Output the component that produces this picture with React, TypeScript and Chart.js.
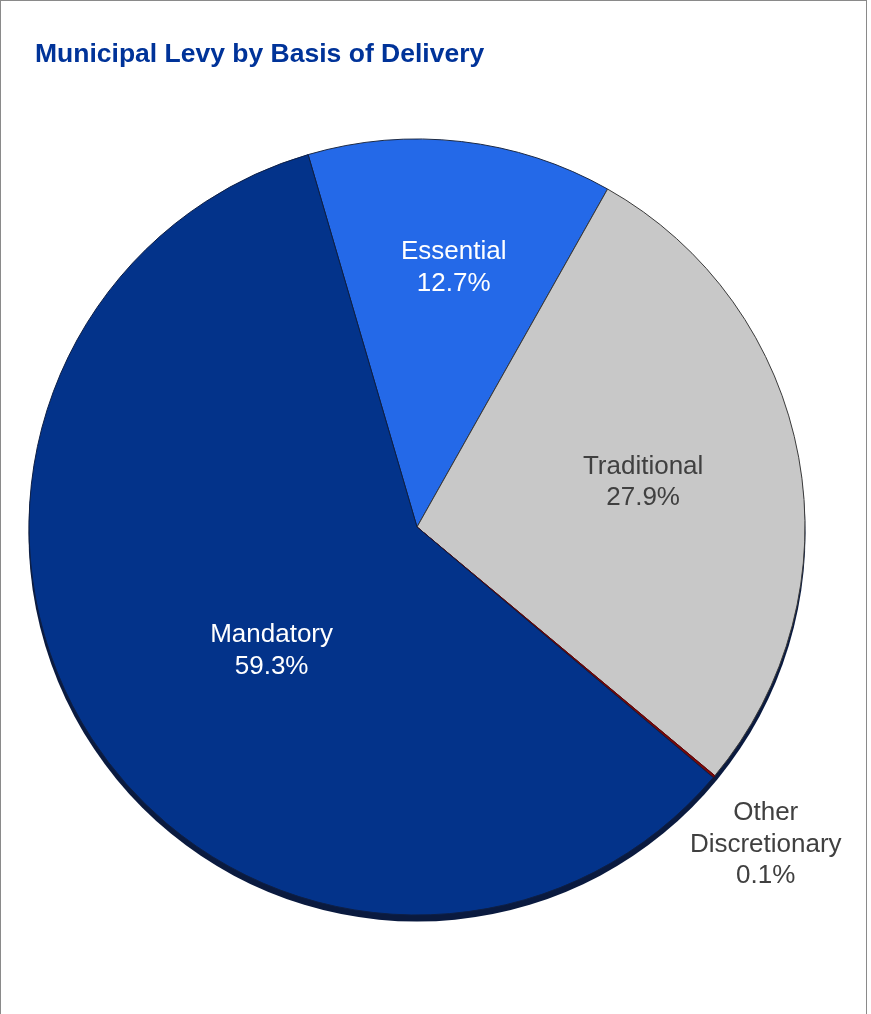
import React, { useEffect, useRef } from "react";
import { Chart, registerables } from "chart.js";

Chart.register(...registerables);

const categories = ["Essential", "Traditional", "Other Discretionary", "Mandatory"];
const labelLines = [["Essential"], ["Traditional"], ["Other", "Discretionary"], ["Mandatory"]];
const shares = [12.7, 27.9, 0.1, 59.3];
const sliceColors = ["#2469E8", "#C8C8C8", "#7A0A0A", "#03338A"];
const borderColors = ["#1c2a45", "#3a3a3a", "#6a0000", "#0e1f45"];
const labelColors = ["#FFFFFF", "#404040", "#404040", "#FFFFFF"];
const labelRadiusFrac = [0.675, 0.594, 1.216, 0.492];
const labelAngleShiftDeg = [1.5, -0.8, 2.3, -7.35];

const rimPlugin = {
  id: "rim",
  beforeDatasetsDraw(chart: any) {
    const meta = chart.getDatasetMeta(0);
    const el = meta.data[0];
    if (!el) return;
    const { x, y, outerRadius } = el.getProps(["x", "y", "outerRadius"], true);
    const ctx = chart.ctx;
    ctx.save();
    ctx.beginPath();
    ctx.arc(x, y + 6, outerRadius + 0.5, 0, Math.PI * 2);
    ctx.fillStyle = "#0a1a3f";
    ctx.fill();
    ctx.restore();
  },
};

const labelPlugin = {
  id: "sliceLabels",
  afterDatasetsDraw(chart: any) {
    const meta = chart.getDatasetMeta(0);
    const ctx = chart.ctx;
    const fontSize = 26;
    const lineH = 31.5;
    ctx.save();
    ctx.font = `${fontSize}px "Liberation Sans", Arial, sans-serif`;
    ctx.textAlign = "center";
    ctx.textBaseline = "middle";
    meta.data.forEach((el: any, i: number) => {
      const { x, y, startAngle, endAngle, outerRadius } = el.getProps(
        ["x", "y", "startAngle", "endAngle", "outerRadius"],
        true
      );
      const mid = (startAngle + endAngle) / 2 + (labelAngleShiftDeg[i] * Math.PI) / 180;
      const r = outerRadius * labelRadiusFrac[i];
      const cx = x + Math.cos(mid) * r;
      const cy = y + Math.sin(mid) * r;
      const lines = [...labelLines[i], `${shares[i].toFixed(1)}%`];
      const startY = cy - ((lines.length - 1) * lineH) / 2;
      ctx.fillStyle = labelColors[i];
      lines.forEach((t, k) => ctx.fillText(t, cx, startY + k * lineH));
    });
    ctx.restore();
  },
};

export default function App() {
  const canvasRef = useRef<HTMLCanvasElement | null>(null);

  useEffect(() => {
    document.body.style.margin = "0";
    const canvas = canvasRef.current;
    if (!canvas) return;
    const chart = new Chart(canvas, {
      type: "pie",
      data: {
        labels: categories,
        datasets: [
          {
            data: shares,
            backgroundColor: sliceColors,
            borderColor: borderColors,
            borderWidth: 1,
          },
        ],
      },
      options: {
        responsive: false,
        animation: false,
        rotation: -16.3,
        layout: { padding: { left: 28.5, top: 138.5, right: 65.5, bottom: 98.5 } },
        plugins: {
          legend: { display: false },
          title: { display: false },
          tooltip: { enabled: false },
        },
      },
      plugins: [rimPlugin, labelPlugin],
    });
    return () => chart.destroy();
  }, []);

  return (
    <div style={{ position: "relative", width: 871, height: 1014, overflow: "hidden", background: "#fff" }}>
      <div
        style={{
          position: "absolute",
          left: 0,
          top: 0,
          width: 865,
          height: 1020,
          border: "1px solid #8a8a8a",
          boxSizing: "content-box",
        }}
      />
      <canvas
        ref={canvasRef}
        width={871}
        height={1014}
        style={{ position: "absolute", left: 0, top: 0, width: 871, height: 1014 }}
      />
      <div
        style={{
          position: "absolute",
          left: 35,
          top: 36,
          fontFamily: '"Liberation Sans", Arial, sans-serif',
          fontWeight: "bold",
          fontSize: 26.5,
          lineHeight: "34px",
          color: "#003399",
          whiteSpace: "nowrap",
        }}
      >
        Municipal Levy by Basis of Delivery
      </div>
    </div>
  );
}
